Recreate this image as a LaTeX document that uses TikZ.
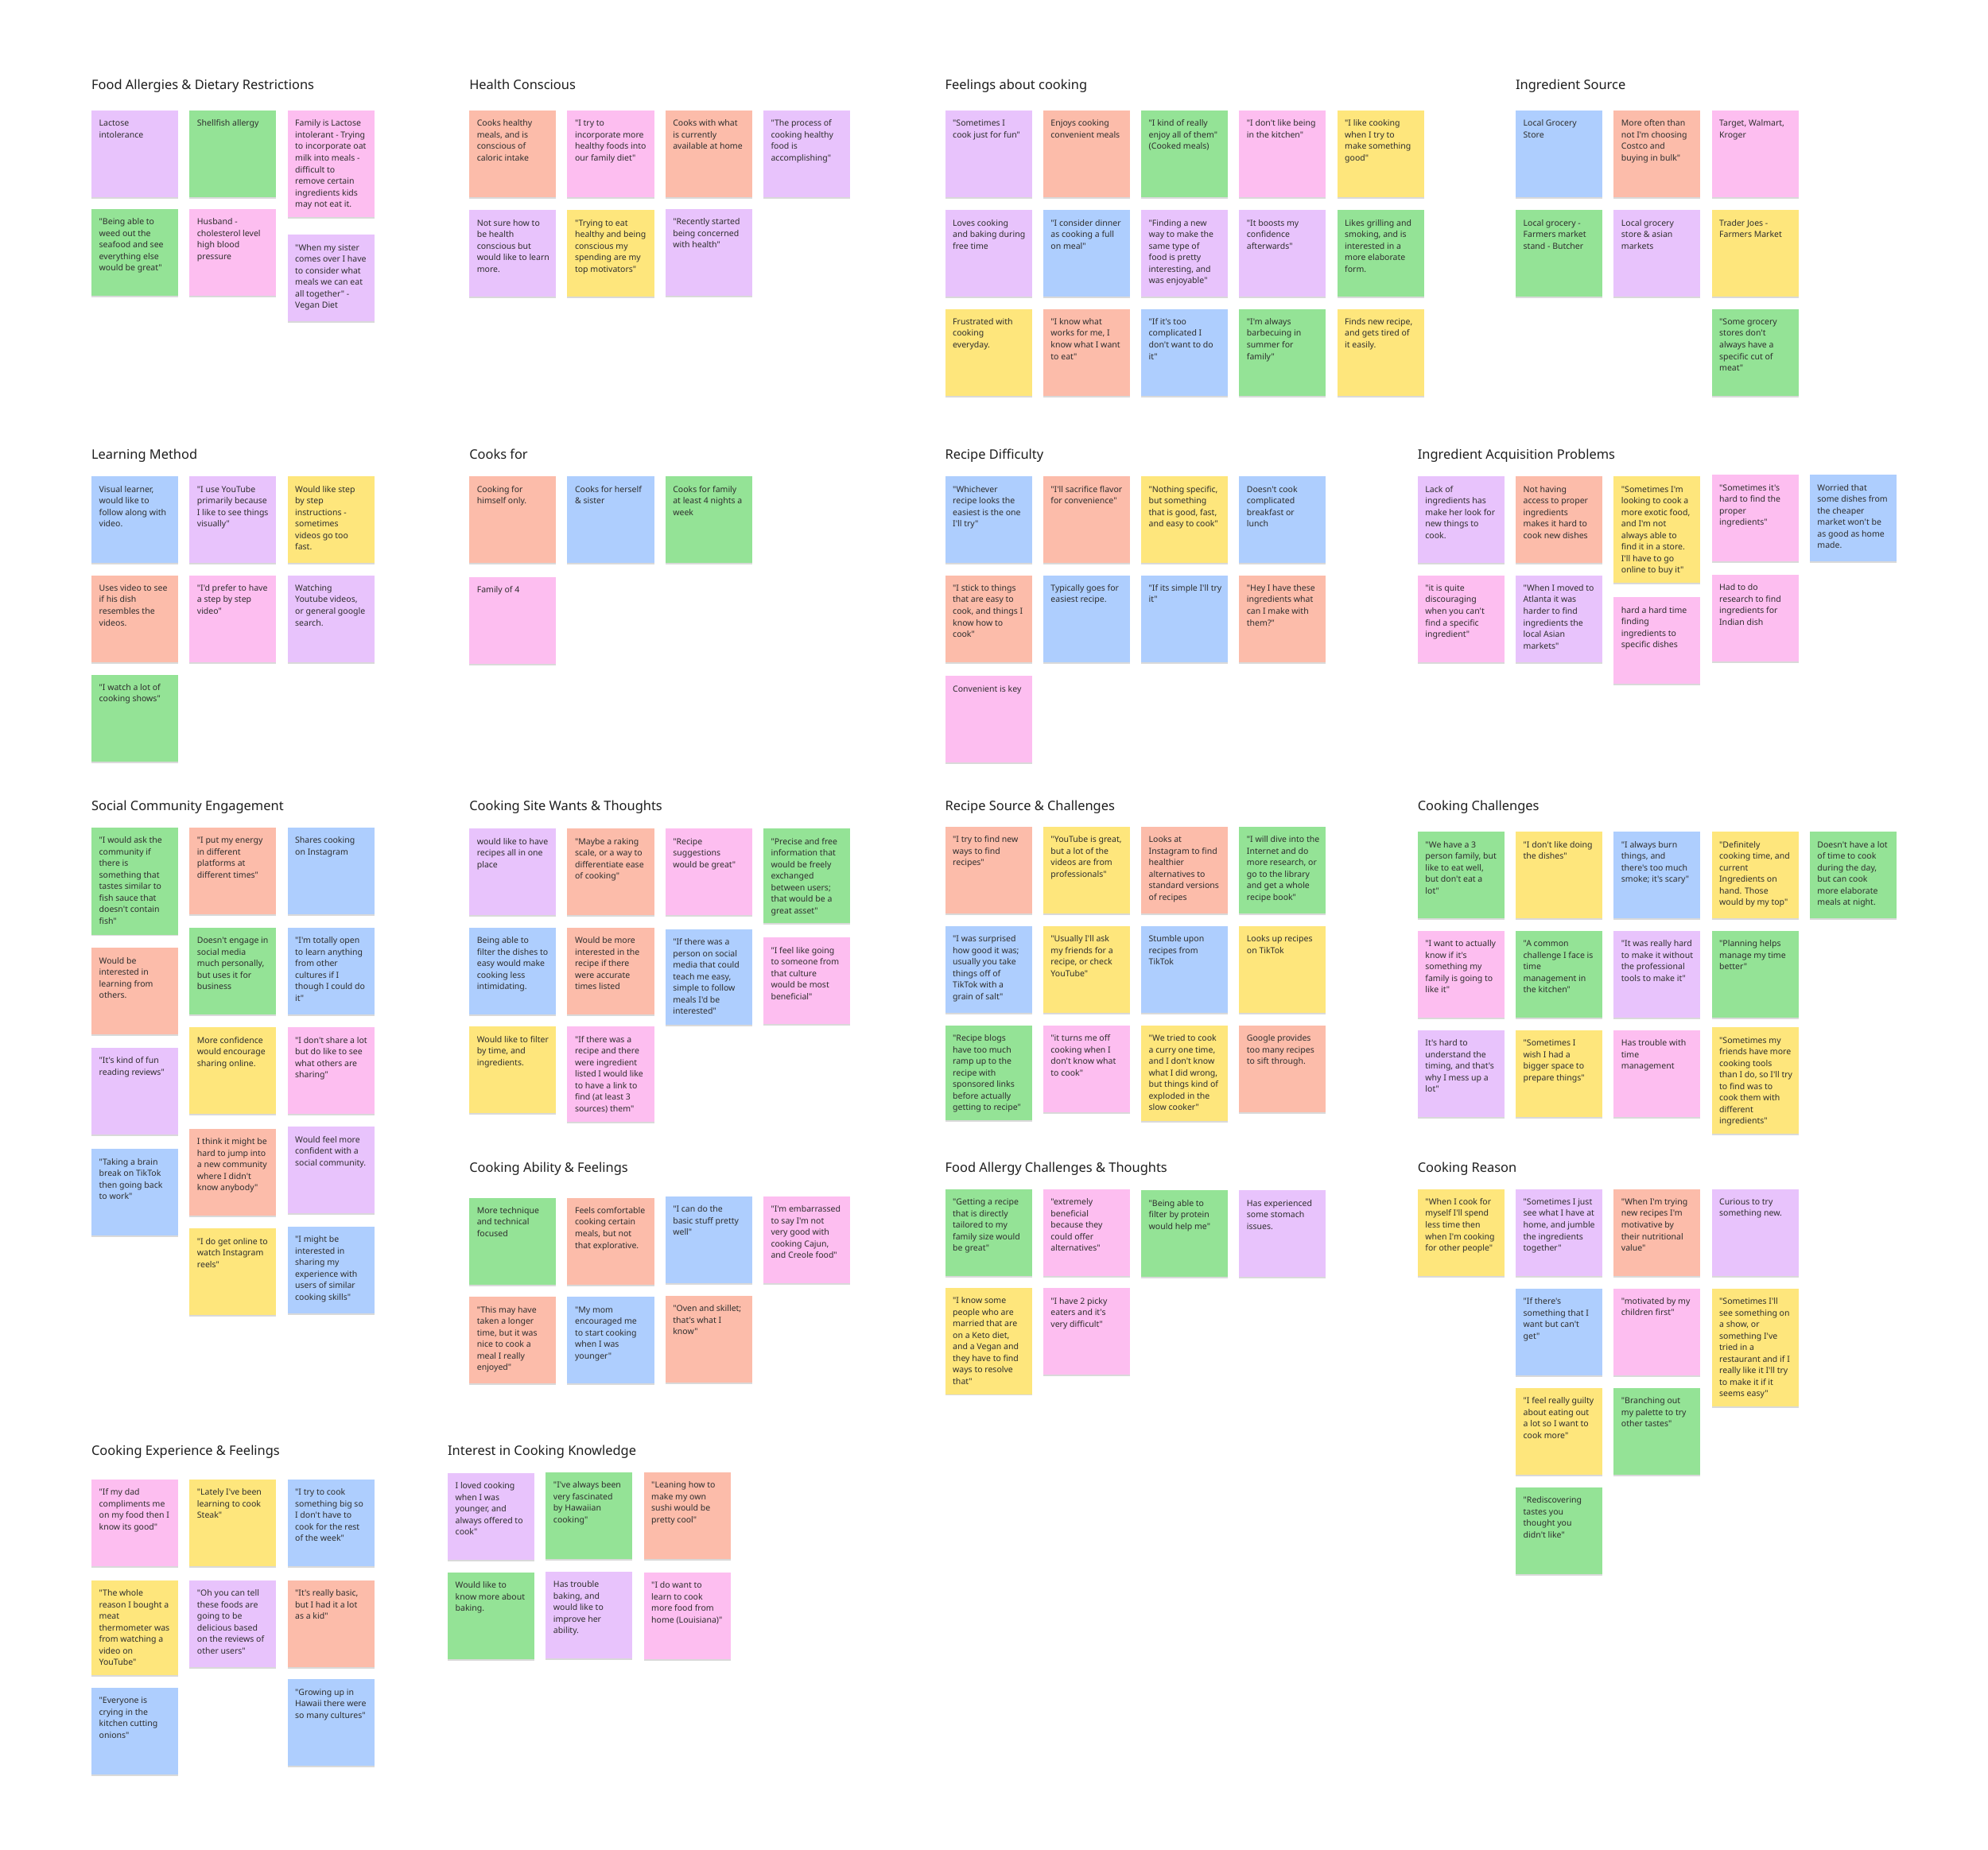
\documentclass[tikz,border=0pt]{standalone}
\usepackage{fontspec}
\setmainfont{Noto Sans}[Ligatures=TeXOff]
\usetikzlibrary{shadows}
\definecolor{cpurple}{HTML}{E8C3FC}
\definecolor{cgreen}{HTML}{94E396}
\definecolor{cpink}{HTML}{FDBEF0}
\definecolor{csalmon}{HTML}{FCBCAA}
\definecolor{cblue}{HTML}{AECEFE}
\definecolor{cyellow}{HTML}{FEE67C}
\definecolor{notetextc}{HTML}{2E2E2E}
\definecolor{titlec}{HTML}{1E1E1E}
\tikzset{
  notebox/.style={anchor=north west, inner sep=0pt, minimum width=68.4pt, draw=none,
    drop shadow={shadow xshift=0pt, shadow yshift=-1.2pt, opacity=0.15, fill=black}},
  notetext/.style={anchor=north west, inner sep=0pt, align=left,
    font=\fontsize{6.6pt}{9.1pt}\selectfont, text=notetextc},
  grouptitle/.style={anchor=base west, inner sep=0pt,
    font=\fontsize{10.3pt}{12pt}\selectfont, text=titlec}
}
\newcommand\snh[6]{%
  \node[notebox, fill=#5, minimum height=#4pt] (#1) at (#2,#3) {};
  \node[notetext] (#1t) at ([shift={(6,6.5)}]#1.north west) {\rule{0pt}{6pt}#6};
}
\newcommand\sn[5]{\snh{#1}{#2}{#3}{68.4}{#4}{#5}}
\begin{document}
\begin{tikzpicture}[x=1pt,y=-1pt]
\useasboundingbox (0,0) rectangle (1568,1459);
\fill[white] (0,0) rectangle (1568,1459);

% ---------- Food Allergies & Dietary Restrictions
\node[grouptitle] (t1) at (72,70.7) {Food Allergies \& Dietary Restrictions};
\sn{fa1}{72}{87}{cpurple}{Lactose\\intolerance}
\sn{fa2}{149.3}{87}{cgreen}{Shellfish allergy}
\snh{fa3}{226.6}{87}{84}{cpink}{Family is Lactose\\intolerant - Trying\\to incorporate oat\\milk into meals -\\difficult to\\remove certain\\ingredients kids\\may not eat it.}
\sn{fa4}{72}{164.5}{cgreen}{"Being able to\\weed out the\\seafood and see\\everything else\\would be great"}
\sn{fa5}{149.3}{164.5}{cpink}{Husband -\\cholesterol level\\high blood\\pressure}
\sn{fa6}{226.6}{185}{cpurple}{"When my sister\\comes over I have\\to consider what\\meals we can eat\\all together" -\\Vegan Diet}

% ---------- Health Conscious
\node[grouptitle] (t2) at (370,70.7) {Health Conscious};
\sn{hc1}{370}{87}{csalmon}{Cooks healthy\\meals, and is\\conscious of\\caloric intake}
\sn{hc2}{447.3}{87}{cpink}{"I try to\\incorporate more\\healthy foods into\\our family diet"}
\sn{hc3}{524.6}{87}{csalmon}{Cooks with what\\is currently\\available at home}
\sn{hc4}{601.9}{87}{cpurple}{"The process of\\cooking healthy\\food is\\accomplishing"}
\sn{hc5}{370}{165.5}{cpurple}{Not sure how to\\be health\\conscious but\\would like to learn\\more.}
\sn{hc6}{447.3}{165.5}{cyellow}{"Trying to eat\\healthy and being\\conscious my\\spending are my\\top motivators"}
\sn{hc7}{524.6}{164.5}{cpurple}{"Recently started\\being concerned\\with health"}

% ---------- Feelings about cooking
\node[grouptitle] (t3) at (745.3,70.7) {Feelings about cooking};
\sn{fc1}{745.3}{87}{cpurple}{"Sometimes I\\cook just for fun"}
\sn{fc2}{822.6}{87}{csalmon}{Enjoys cooking\\convenient meals}
\sn{fc3}{899.9}{87}{cgreen}{"I kind of really\\enjoy all of them"\\(Cooked meals)}
\sn{fc4}{977.2}{87}{cpink}{"I don't like being\\in the kitchen"}
\sn{fc5}{1054.5}{87}{cyellow}{"I like cooking\\when I try to\\make something\\good"}
\sn{fc6}{745.3}{165.5}{cpurple}{Loves cooking\\and baking during\\free time}
\sn{fc7}{822.6}{165.5}{cblue}{"I consider dinner\\as cooking a full\\on meal"}
\sn{fc8}{899.9}{165.5}{cpurple}{"Finding a new\\way to make the\\same type of\\food is pretty\\interesting, and\\was enjoyable"}
\sn{fc9}{977.2}{165.5}{cpurple}{"It boosts my\\confidence\\afterwards"}
\sn{fc10}{1054.5}{165.5}{cgreen}{Likes grilling and\\smoking, and is\\interested in a\\more elaborate\\form.}
\sn{fc11}{745.3}{243.5}{cyellow}{Frustrated with\\cooking\\everyday.}
\sn{fc12}{822.6}{243.5}{csalmon}{"I know what\\works for me, I\\know what I want\\to eat"}
\sn{fc13}{899.9}{243.5}{cblue}{"If it's too\\complicated I\\don't want to do\\it"}
\sn{fc14}{977.2}{243.5}{cgreen}{"I'm always\\barbecuing in\\summer for\\family"}
\sn{fc15}{1054.5}{243.5}{cyellow}{Finds new recipe,\\and gets tired of\\it easily.}

% ---------- Ingredient Source
\node[grouptitle] (t4) at (1195.3,70.7) {Ingredient Source};
\sn{is1}{1195.3}{87}{cblue}{Local Grocery\\Store}
\sn{is2}{1272.6}{87}{csalmon}{More often than\\not I'm choosing\\Costco and\\buying in bulk"}
\sn{is3}{1349.9}{87}{cpink}{Target, Walmart,\\Kroger}
\sn{is4}{1195.3}{165.5}{cgreen}{Local grocery -\\Farmers market\\stand - Butcher}
\sn{is5}{1272.6}{165.5}{cpurple}{Local grocery\\store \& asian\\markets}
\sn{is6}{1349.9}{165.5}{cyellow}{Trader Joes -\\Farmers Market}
\sn{is7}{1349.9}{243.5}{cgreen}{"Some grocery\\stores don't\\always have a\\specific cut of\\meat"}

% ---------- Learning Method
\node[grouptitle] (t5) at (72,362.3) {Learning Method};
\sn{lm1}{72}{375.7}{cblue}{Visual learner,\\would like to\\follow along with\\video.}
\sn{lm2}{149.3}{375.7}{cpurple}{"I use YouTube\\primarily because\\I like to see things\\visually"}
\sn{lm3}{226.6}{375.7}{cyellow}{Would like step\\by step\\instructions -\\sometimes\\videos go too\\fast.}
\sn{lm4}{72}{453.6}{csalmon}{Uses video to see\\if his dish\\resembles the\\videos.}
\sn{lm5}{149.3}{453.6}{cpink}{"I'd prefer to have\\a step by step\\video"}
\sn{lm6}{226.6}{453.6}{cpurple}{Watching\\Youtube videos,\\or general google\\search.}
\sn{lm7}{72}{532}{cgreen}{"I watch a lot of\\cooking shows"}

% ---------- Cooks for
\node[grouptitle] (t6) at (370,362.3) {Cooks for};
\sn{cf1}{370}{375.7}{csalmon}{Cooking for\\himself only.}
\sn{cf2}{447.3}{375.7}{cblue}{Cooks for herself\\\& sister}
\sn{cf3}{524.6}{375.7}{cgreen}{Cooks for family\\at least 4 nights a\\week}
\sn{cf4}{370}{455}{cpink}{Family of 4}

% ---------- Recipe Difficulty
\node[grouptitle] (t7) at (745.3,362.3) {Recipe Difficulty};
\sn{rd1}{745.3}{375.7}{cblue}{"Whichever\\recipe looks the\\easiest is the one\\I'll try"}
\sn{rd2}{822.6}{375.7}{csalmon}{"I'll sacrifice flavor\\for convenience"}
\sn{rd3}{899.9}{375.7}{cyellow}{"Nothing specific,\\but something\\that is good, fast,\\and easy to cook"}
\sn{rd4}{977.2}{375.7}{cblue}{Doesn't cook\\complicated\\breakfast or\\lunch}
\sn{rd5}{745.3}{453.6}{csalmon}{"I stick to things\\that are easy to\\cook, and things I\\know how to\\cook"}
\sn{rd6}{822.6}{453.6}{cblue}{Typically goes for\\easiest recipe.}
\sn{rd7}{899.9}{453.6}{cblue}{"If its simple I'll try\\it"}
\sn{rd8}{977.2}{453.6}{csalmon}{"Hey I have these\\ingredients what\\can I make with\\them?"}
\sn{rd9}{745.3}{533}{cpink}{Convenient is key}

% ---------- Ingredient Acquisition Problems
\node[grouptitle] (t8) at (1118,362.3) {Ingredient Acquisition Problems};
\sn{ia1}{1118}{375.7}{cpurple}{Lack of\\ingredients has\\make her look for\\new things to\\cook.}
\sn{ia2}{1195.3}{375.7}{csalmon}{Not having\\access to proper\\ingredients\\makes it hard to\\cook new dishes}
\snh{ia3}{1272.6}{375.7}{84}{cyellow}{"Sometimes I'm\\looking to cook a\\more exotic food,\\and I'm not\\always able to\\find it in a store.\\I'll have to go\\online to buy it"}
\sn{ia4}{1349.9}{374.5}{cpink}{"Sometimes it's\\hard to find the\\proper\\ingredients"}
\sn{ia5}{1427.2}{374.5}{cblue}{Worried that\\some dishes from\\the cheaper\\market won't be\\as good as home\\made.}
\sn{ia6}{1118}{453.6}{cpink}{"it is quite\\discouraging\\when you can't\\find a specific\\ingredient"}
\sn{ia7}{1195.3}{453.6}{cpurple}{"When I moved to\\Atlanta it was\\harder to find\\ingredients the\\local Asian\\markets"}
\sn{ia8}{1272.6}{471}{cpink}{hard a hard time\\finding\\ingredients to\\specific dishes}
\sn{ia9}{1349.9}{453}{cpink}{Had to do\\research to find\\ingredients for\\Indian dish}

% ---------- Social Community Engagement
\node[grouptitle] (t9) at (72,639.3) {Social Community Engagement};
\snh{sc1}{72}{652.7}{84.4}{cgreen}{"I would ask the\\community if\\there is\\something that\\tastes similar to\\fish sauce that\\doesn't contain\\fish"}
\sn{sc2}{72}{747.6}{csalmon}{Would be\\interested in\\learning from\\others.}
\sn{sc3}{72}{826.4}{cpurple}{"It's kind of fun\\reading reviews"}
\sn{sc4}{72}{906.3}{cblue}{"Taking a brain\\break on TikTok\\then going back\\to work"}
\sn{sc5}{149.3}{652.7}{csalmon}{"I put my energy\\in different\\platforms at\\different times"}
\sn{sc6}{149.3}{731.6}{cgreen}{Doesn't engage in\\social media\\much personally,\\but uses it for\\business}
\sn{sc7}{149.3}{810.3}{cyellow}{More confidence\\would encourage\\sharing online.}
\sn{sc8}{149.3}{890.2}{csalmon}{I think it might be\\hard to jump into\\a new community\\where I didn't\\know anybody"}
\sn{sc9}{149.3}{969}{cyellow}{"I do get online to\\watch Instagram\\reels"}
\sn{sc10}{226.6}{652.7}{cblue}{Shares cooking\\on Instagram}
\sn{sc11}{226.6}{731.6}{cblue}{"I'm totally open\\to learn anything\\from other\\cultures if I\\though I could do\\it"}
\sn{sc12}{226.6}{810.3}{cpink}{"I don't share a lot\\but do like to see\\what others are\\sharing"}
\sn{sc13}{226.6}{888.6}{cpurple}{Would feel more\\confident with a\\social community.}
\sn{sc14}{226.6}{967.4}{cblue}{"I might be\\interested in\\sharing my\\experience with\\users of similar\\cooking skills"}

% ---------- Cooking Site Wants & Thoughts
\node[grouptitle] (t10) at (370,639.3) {Cooking Site Wants \& Thoughts};
\sn{cs1}{370}{653.5}{cpurple}{would like to have\\recipes all in one\\place}
\sn{cs2}{370}{731.5}{cblue}{Being able to\\filter the dishes to\\easy would make\\cooking less\\intimidating.}
\sn{cs3}{370}{809.7}{cyellow}{Would like to filter\\by time, and\\ingredients.}
\sn{cs4}{447.3}{653.5}{csalmon}{"Maybe a raking\\scale, or a way to\\differentiate ease\\of cooking"}
\sn{cs5}{447.3}{731.5}{csalmon}{Would be more\\interested in the\\recipe if there\\were accurate\\times listed}
\snh{cs6}{447.3}{809.7}{75.3}{cpink}{"If there was a\\recipe and there\\were ingredient\\listed I would like\\to have a link to\\find (at least 3\\sources) them"}
\sn{cs7}{524.6}{653.5}{cpink}{"Recipe\\suggestions\\would be great"}
\snh{cs8}{524.6}{732.8}{75.3}{cblue}{"If there was a\\person on social\\media that could\\teach me easy,\\simple to follow\\meals I'd be\\interested"}
\snh{cs9}{601.9}{653.5}{74.6}{cgreen}{"Precise and free\\information that\\would be freely\\exchanged\\between users;\\that would be a\\great asset"}
\sn{cs10}{601.9}{739.5}{cpink}{"I feel like going\\to someone from\\that culture\\would be most\\beneficial"}

% ---------- Recipe Source & Challenges
\node[grouptitle] (t11) at (745.3,639.3) {Recipe Source \& Challenges};
\sn{rs1}{745.3}{652}{csalmon}{"I try to find new\\ways to find\\recipes"}
\sn{rs2}{822.6}{652}{cyellow}{"YouTube is great,\\but a lot of the\\videos are from\\professionals"}
\sn{rs3}{899.9}{652}{csalmon}{Looks at\\Instagram to find\\healthier\\alternatives to\\standard versions\\of recipes}
\sn{rs4}{977.2}{652}{cgreen}{"I will dive into the\\Internet and do\\more research, or\\go to the library\\and get a whole\\recipe book"}
\sn{rs5}{745.3}{730.3}{cblue}{"I was surprised\\how good it was;\\usually you take\\things off of\\TikTok with a\\grain of salt"}
\sn{rs6}{822.6}{730.3}{cyellow}{"Usually I'll ask\\my friends for a\\recipe, or check\\YouTube"}
\sn{rs7}{899.9}{730.3}{cblue}{Stumble upon\\recipes from\\TikTok}
\sn{rs8}{977.2}{730.3}{cyellow}{Looks up recipes\\on TikTok}
\snh{rs9}{745.3}{808.7}{74.6}{cgreen}{"Recipe blogs\\have too much\\ramp up to the\\recipe with\\sponsored links\\before actually\\getting to recipe"}
\sn{rs10}{822.6}{808.7}{cpink}{"it turns me off\\cooking when I\\don't know what\\to cook"}
\snh{rs11}{899.9}{808.7}{75.3}{cyellow}{"We tried to cook\\a curry one time,\\and I don't know\\what I did wrong,\\but things kind of\\exploded in the\\slow cooker"}
\sn{rs12}{977.2}{808.7}{csalmon}{Google provides\\too many recipes\\to sift through.}

% ---------- Cooking Challenges
\node[grouptitle] (t12) at (1118,639.3) {Cooking Challenges};
\sn{cc1}{1118}{656}{cgreen}{"We have a 3\\person family, but\\like to eat well,\\but don't eat a\\lot"}
\sn{cc2}{1195.3}{656}{cyellow}{"I don't like doing\\the dishes"}
\sn{cc3}{1272.6}{656}{cblue}{"I always burn\\things, and\\there's too much\\smoke; it's scary"}
\sn{cc4}{1349.9}{656}{cyellow}{"Definitely\\cooking time, and\\current\\Ingredients on\\hand. Those\\would by my top"}
\sn{cc5}{1427.2}{656}{cgreen}{Doesn't have a lot\\of time to cook\\during the day,\\but can cook\\more elaborate\\meals at night.}
\sn{cc6}{1118}{734.2}{cpink}{"I want to actually\\know if it's\\something my\\family is going to\\like it"}
\sn{cc7}{1195.3}{734.2}{cgreen}{"A common\\challenge I face is\\time\\management in\\the kitchen"}
\sn{cc8}{1272.6}{734.2}{cpurple}{"It was really hard\\to make it without\\the professional\\tools to make it"}
\sn{cc9}{1349.9}{734.2}{cgreen}{"Planning helps\\manage my time\\better"}
\sn{cc10}{1118}{812.4}{cpurple}{It's hard to\\understand the\\timing, and that's\\why I mess up a\\lot"}
\sn{cc11}{1195.3}{812.4}{cyellow}{"Sometimes I\\wish I had a\\bigger space to\\prepare things"}
\sn{cc12}{1272.6}{812.4}{cpink}{Has trouble with\\time\\management}
\snh{cc13}{1349.9}{810.3}{84}{cyellow}{"Sometimes my\\friends have more\\cooking tools\\than I do, so I'll try\\to find was to\\cook them with\\different\\ingredients"}

% ---------- Cooking Ability & Feelings
\node[grouptitle] (t13) at (370,925.1) {Cooking Ability \& Feelings};
\sn{ca1}{370}{944.7}{cgreen}{More technique\\and technical\\focused}
\sn{ca2}{447.3}{944.7}{csalmon}{Feels comfortable\\cooking certain\\meals, but not\\that explorative.}
\sn{ca3}{524.6}{943.5}{cblue}{"I can do the\\basic stuff pretty\\well"}
\sn{ca4}{601.9}{943.5}{cpink}{"I'm embarrassed\\to say I'm not\\very good with\\cooking Cajun,\\and Creole food"}
\sn{ca5}{370}{1022.8}{csalmon}{"This may have\\taken a longer\\time, but it was\\nice to cook a\\meal I really\\enjoyed"}
\sn{ca6}{447.3}{1022.8}{cblue}{"My mom\\encouraged me\\to start cooking\\when I was\\younger"}
\sn{ca7}{524.6}{1021.9}{csalmon}{"Oven and skillet;\\that's what I\\know"}

% ---------- Food Allergy Challenges & Thoughts
\node[grouptitle] (t14) at (745.3,925.1) {Food Allergy Challenges \& Thoughts};
\sn{fa7}{745.3}{937.9}{cgreen}{"Getting a recipe\\that is directly\\tailored to my\\family size would\\be great"}
\sn{fa8}{822.6}{937.9}{cpink}{"extremely\\beneficial\\because they\\could offer\\alternatives"}
\sn{fa9}{899.9}{938.9}{cgreen}{"Being able to\\filter by protein\\would help me"}
\sn{fa10}{977.2}{938.9}{cpurple}{Has experienced\\some stomach\\issues.}
\snh{fa11}{745.3}{1015.6}{84}{cyellow}{"I know some\\people who are\\married that are\\on a Keto diet,\\and a Vegan and\\they have to find\\ways to resolve\\that"}
\sn{fa12}{822.6}{1016}{cpink}{"I have 2 picky\\eaters and it's\\very difficult"}

% ---------- Cooking Reason
\node[grouptitle] (t15) at (1118,925.1) {Cooking Reason};
\sn{cr1}{1118}{937.8}{cyellow}{"When I cook for\\myself I'll spend\\less time then\\when I'm cooking\\for other people"}
\sn{cr2}{1195.3}{937.8}{cpurple}{"Sometimes I just\\see what I have at\\home, and jumble\\the ingredients\\together"}
\sn{cr3}{1272.6}{937.8}{csalmon}{"When I'm trying\\new recipes I'm\\motivative by\\their nutritional\\value"}
\sn{cr4}{1349.9}{937.8}{cpurple}{Curious to try\\something new.}
\sn{cr5}{1195.3}{1016.2}{cblue}{"If there's\\something that I\\want but can't\\get"}
\sn{cr6}{1272.6}{1016.2}{cpink}{"motivated by my\\children first"}
\snh{cr7}{1349.9}{1016.2}{93.4}{cyellow}{"Sometimes I'll\\see something on\\a show, or\\something I've\\tried in a\\restaurant and if I\\really like it I'll try\\to make it if it\\seems easy"}
\sn{cr8}{1195.3}{1094.8}{cyellow}{"I feel really guilty\\about eating out\\a lot so I want to\\cook more"}
\sn{cr9}{1272.6}{1094.8}{cgreen}{"Branching out\\my palette to try\\other tastes"}
\sn{cr10}{1195.3}{1173}{cgreen}{"Rediscovering\\tastes you\\thought you\\didn't like"}

% ---------- Cooking Experience & Feelings
\node[grouptitle] (t16) at (72,1148.3) {Cooking Experience \& Feelings};
\sn{ce1}{72}{1166.8}{cpink}{"If my dad\\compliments me\\on my food then I\\know its good"}
\sn{ce2}{149.3}{1166.8}{cyellow}{"Lately I've been\\learning to cook\\Steak"}
\sn{ce3}{226.6}{1166.8}{cblue}{"I try to cook\\something big so\\I don't have to\\cook for the rest\\of the week"}
\snh{ce4}{72}{1246.4}{74.8}{cyellow}{"The whole\\reason I bought a\\meat\\thermometer was\\from watching a\\video on\\YouTube"}
\sn{ce5}{149.3}{1246.4}{cpurple}{"Oh you can tell\\these foods are\\going to be\\delicious based\\on the reviews of\\other users"}
\sn{ce6}{226.6}{1246.4}{csalmon}{"It's really basic,\\but I had it a lot\\as a kid"}
\sn{ce7}{72}{1331.3}{cblue}{"Everyone is\\crying in the\\kitchen cutting\\onions"}
\sn{ce8}{226.6}{1324.6}{cblue}{"Growing up in\\Hawaii there were\\so many cultures"}

% ---------- Interest in Cooking Knowledge
\node[grouptitle] (t17) at (353,1148.3) {Interest in Cooking Knowledge};
\sn{ik1}{353}{1161.8}{cpurple}{I loved cooking\\when I was\\younger, and\\always offered to\\cook"}
\sn{ik2}{430.3}{1161.2}{cgreen}{"I've always been\\very fascinated\\by Hawaiian\\cooking"}
\sn{ik3}{507.6}{1161.2}{csalmon}{"Leaning how to\\make my own\\sushi would be\\pretty cool"}
\sn{ik4}{353}{1240.4}{cgreen}{Would like to\\know more about\\baking.}
\sn{ik5}{430.3}{1239.6}{cpurple}{Has trouble\\baking, and\\would like to\\improve her\\ability.}
\sn{ik6}{507.6}{1240.4}{cpink}{"I do want to\\learn to cook\\more food from\\home (Louisiana)"}
\end{tikzpicture}
\end{document}
